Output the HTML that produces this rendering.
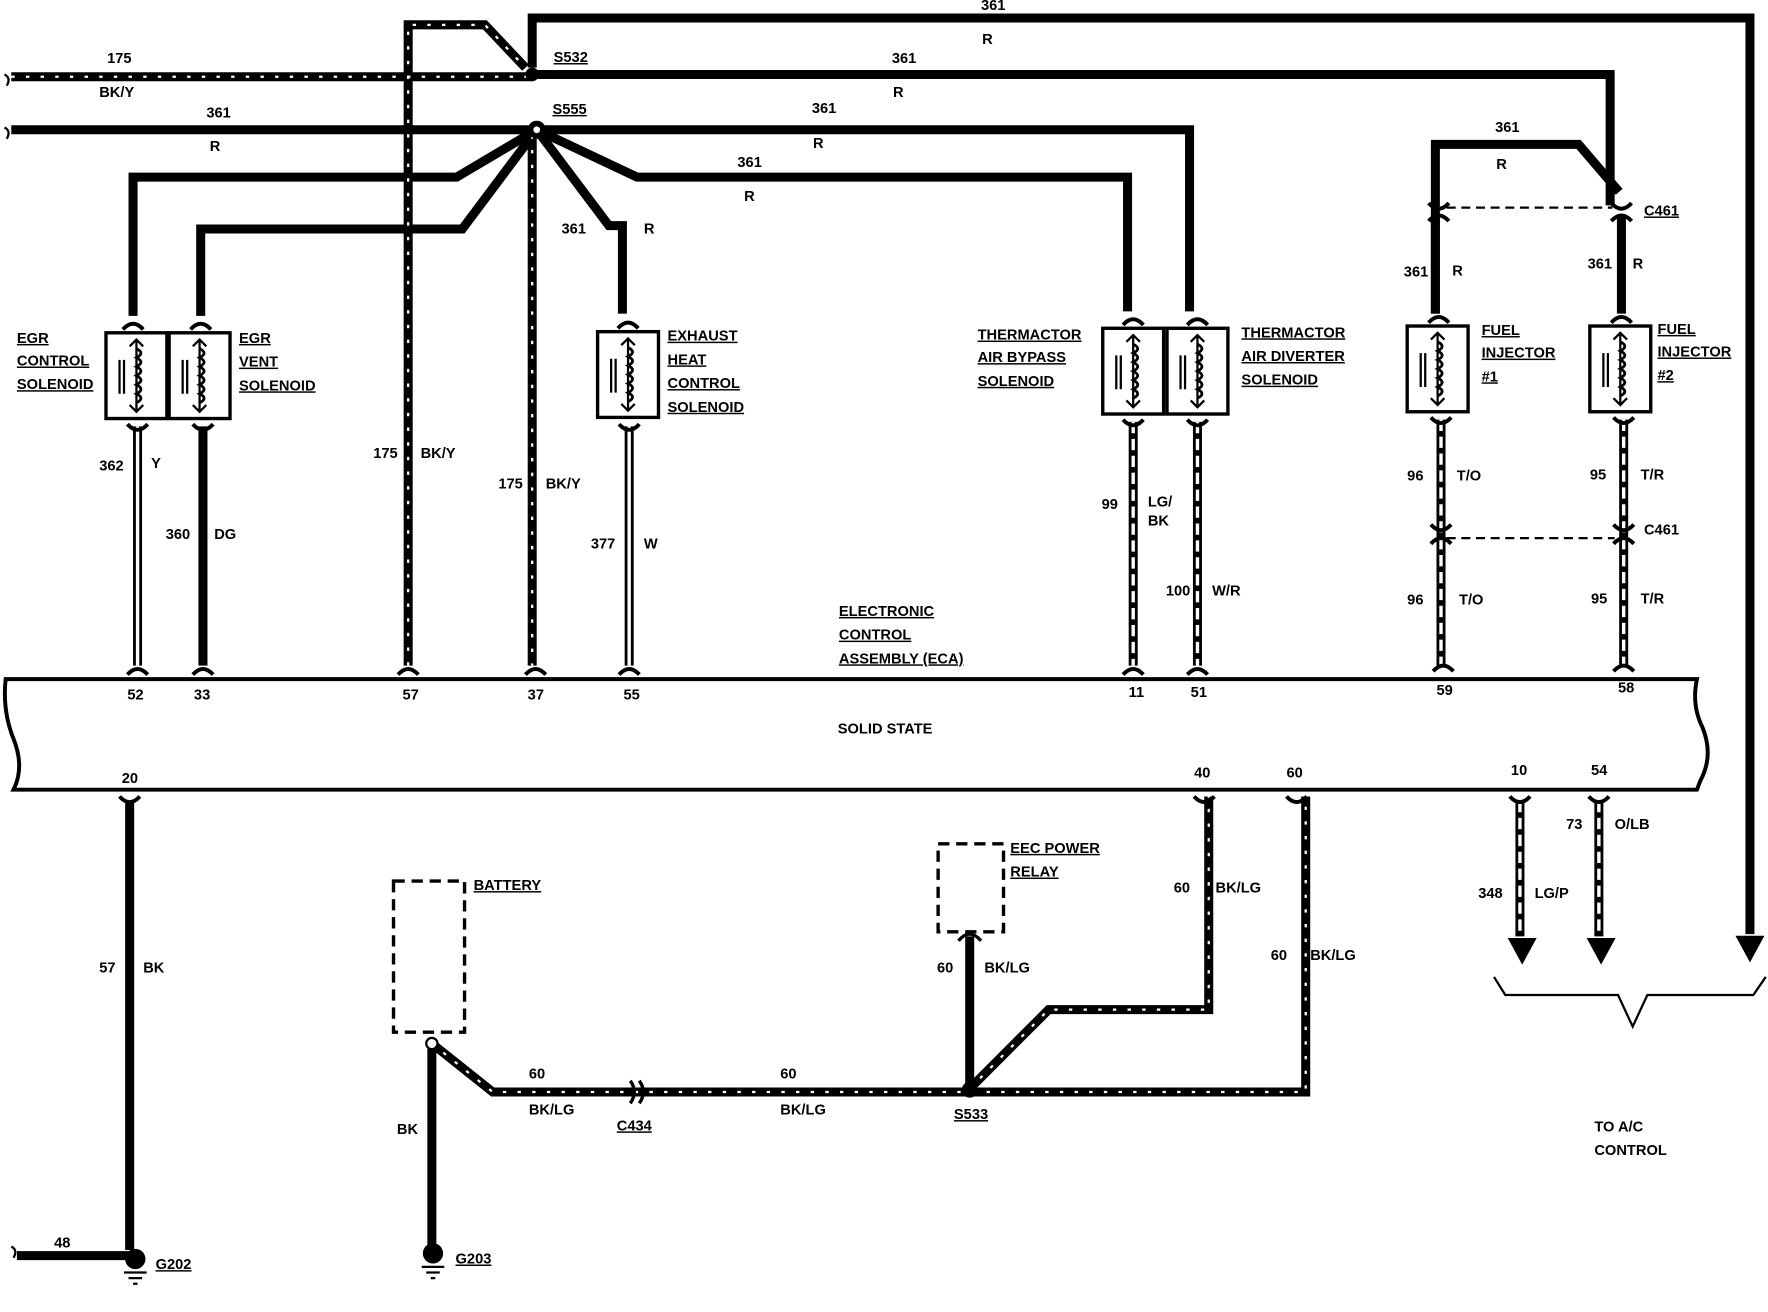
<!DOCTYPE html>
<html><head><meta charset="utf-8"><style>
html,body{margin:0;padding:0;background:#fff;}
svg{display:block;}
text{font-family:"Liberation Sans",sans-serif;font-size:13px;font-weight:bold;fill:#000;}
.u{text-decoration:underline;}
</style></head><body>
<svg width="1768" height="1312" viewBox="0 0 1568 1163" preserveAspectRatio="none" xmlns="http://www.w3.org/2000/svg">
<defs>
<g id="sol">
<rect x="0" y="0" width="54" height="76" fill="#fff" stroke="#000" stroke-width="3"/>
<path d="M27 6 V70 M21 12 L27 6 L33 12 M21 64 L27 70 L33 64" fill="none" stroke="#000" stroke-width="2"/>
<path d="M27 14 q8 4 0 8 q8 4 0 8 q8 4 0 8 q8 4 0 8 q8 4 0 8 q8 4 0 8" fill="none" stroke="#000" stroke-width="2.5"/>
<path d="M12 24 V54 M16 24 V54" stroke="#000" stroke-width="2"/>
</g>
<g id="cup"><path d="M-9 0 Q0 -10 9 0" fill="none" stroke="#000" stroke-width="3.5"/></g>
<g id="cupd"><path d="M-9 0 Q0 10 9 0" fill="none" stroke="#000" stroke-width="3.5"/></g>
</defs>
<g fill="none" stroke-linejoin="miter">
<g stroke="#000" stroke-width="8">
<path d="M472 60 V16 H1552 V828"/>
<path d="M476 66 H1428 V182"/>
<path d="M10 115 H476"/>
<path d="M476 115 H1055 V276"/>
<path d="M476 115 L565 157 H1000 V276"/>
<path d="M476 115 L540 200 H552 V278"/>
<path d="M476 115 L405 157 H118 V280"/>
<path d="M476 115 L410 203 H178 V280"/>
<path d="M1273 278 V128 H1400 L1436 170"/>
<path d="M1438 190 V278"/>
<path d="M1273 190 V278" />
<path d="M180 378 V590"/>
<path d="M115 710 V1108"/>
<path d="M15 1113 H118"/>
<path d="M383 925 V1106"/>
<path d="M860 830 V965"/>
</g>
<g stroke="#000" stroke-width="8">
<path d="M10 68 H472"/>
<path d="M362 590 V22 H430 L466 60"/>
<path d="M472 115 V590"/>
<path d="M383 925 L437 968 H860 H1158 V706"/>
<path d="M860 965 L930 895 H1072 V706"/>
</g>
<g stroke="#fff" stroke-width="2" stroke-dasharray="3 10">
<path d="M10 68 H472"/>
<path d="M362 590 V22 H430 L466 60"/>
<path d="M472 120 V590"/>
<path d="M383 925 L437 968 H860 H1158 V706"/>
<path d="M860 965 L930 895 H1072 V706"/>
</g>
<g stroke="#000" stroke-width="8">
<path d="M122 378 V590"/><path d="M558 378 V590"/><path d="M1005 374 V590"/><path d="M1062 374 V590"/>
<path d="M1278 372 V590"/><path d="M1440 372 V590"/><path d="M1348 710 V830"/><path d="M1418 710 V830"/>
</g>
<g stroke="#fff" stroke-width="3">
<path d="M122 378 V590"/><path d="M558 378 V590"/>
</g>
<g stroke="#fff" stroke-width="3" stroke-dasharray="10 5">
<path d="M1005 374 V590"/><path d="M1062 374 V590"/><path d="M1278 372 V590"/><path d="M1440 372 V590"/><path d="M1348 710 V830"/><path d="M1418 710 V830"/>
</g>
<path d="M1540 830 L1552 852 L1564 830 Z M1338 832 L1350 854 L1362 832 Z M1408 832 L1420 854 L1432 832 Z" fill="#000" stroke="#000"/>
<path d="M1325 866 L1335 882 H1435 L1448 910 L1461 882 H1555 L1566 866" stroke="#000" stroke-width="2"/>
<path d="M1283 184 H1430 M1283 477 H1432" stroke="#000" stroke-width="2" stroke-dasharray="8 5"/>
<path d="M5 602 H1505 Q1500 625 1510 645 Q1520 670 1508 692 L1505 700 H12 Q22 680 12 655 Q2 630 5 602 Z" fill="#fff" stroke="#000" stroke-width="3.5"/>
<rect x="349" y="781" width="63" height="134" stroke="#000" stroke-width="3" stroke-dasharray="10 6"/>
<rect x="832" y="748" width="58" height="78" stroke="#000" stroke-width="3" stroke-dasharray="10 6"/>
<circle cx="383" cy="925" r="5" fill="#fff" stroke="#000" stroke-width="2"/>
<path d="M850 834 Q860 822 870 834" stroke="#000" stroke-width="3"/>
<path d="M559 958 Q566 968 559 978 M567 958 Q574 968 567 978" stroke="#000" stroke-width="3"/>
</g>
<circle cx="472" cy="66" r="6" fill="#000"/>
<circle cx="476" cy="115" r="8" fill="#000"/><circle cx="476" cy="115" r="3" fill="#fff"/>
<circle cx="860" cy="966" r="7" fill="#000"/>
<circle cx="120" cy="1116" r="9" fill="#000"/><circle cx="384" cy="1111" r="9" fill="#000"/>
<path d="M110 1128 H130 M114 1133 H126 M118 1138 H122 M374 1123 H394 M378 1128 H390 M382 1133 H386" stroke="#000" stroke-width="2"/>
<use href="#sol" x="94" y="295"/><use href="#sol" x="150" y="295"/>
<use href="#sol" x="530" y="294"/>
<use href="#sol" x="978" y="291"/><use href="#sol" x="1035" y="291"/>
<use href="#sol" x="1248" y="289"/><use href="#sol" x="1410" y="289"/>
<g>
<use href="#cup" x="118" y="292"/><use href="#cup" x="178" y="292"/><use href="#cup" x="557" y="291"/>
<use href="#cup" x="1005" y="288"/><use href="#cup" x="1062" y="288"/><use href="#cup" x="1276" y="286"/><use href="#cup" x="1438" y="286"/>
<use href="#cupd" x="122" y="376"/><use href="#cupd" x="180" y="376"/><use href="#cupd" x="558" y="376"/>
<use href="#cupd" x="1005" y="372"/><use href="#cupd" x="1062" y="372"/><use href="#cupd" x="1278" y="370"/><use href="#cupd" x="1440" y="370"/>
<use href="#cup" x="122" y="598"/><use href="#cup" x="180" y="598"/><use href="#cup" x="362" y="598"/><use href="#cup" x="475" y="598"/><use href="#cup" x="558" y="598"/>
<use href="#cup" x="1005" y="598"/><use href="#cup" x="1062" y="598"/><use href="#cup" x="1280" y="595"/><use href="#cup" x="1440" y="595"/>
<use href="#cupd" x="115" y="706"/><use href="#cupd" x="1068" y="706"/><use href="#cupd" x="1150" y="706"/><use href="#cupd" x="1348" y="706"/><use href="#cupd" x="1418" y="706"/>
<use href="#cupd" x="1276" y="180"/><use href="#cupd" x="1438" y="180"/><use href="#cup" x="1276" y="196"/><use href="#cup" x="1438" y="196"/>
<use href="#cupd" x="1278" y="465"/><use href="#cupd" x="1440" y="465"/><use href="#cup" x="1278" y="482"/><use href="#cup" x="1440" y="482"/>
</g>
<text x="95" y="56">175</text><text x="88" y="86">BK/Y</text>
<text x="183" y="104">361</text><text x="186" y="134">R</text>
<text x="870" y="9">361</text><text x="871" y="39">R</text>
<text x="791" y="56">361</text><text x="792" y="86">R</text>
<text x="720" y="100">361</text><text x="721" y="131">R</text>
<text x="654" y="148">361</text><text x="660" y="178">R</text>
<text x="498" y="207">361</text><text x="571" y="207">R</text>
<text x="491" y="55" class="u">S532</text><text x="490" y="101" class="u">S555</text>
<text x="1326" y="117">361</text><text x="1327" y="150">R</text>
<text x="1458" y="191" class="u">C461</text>
<text x="1245" y="245">361</text><text x="1288" y="244">R</text>
<text x="1408" y="238">361</text><text x="1448" y="238">R</text>
<text x="15" y="304" class="u">EGR</text><text x="15" y="324" class="u">CONTROL</text><text x="15" y="345" class="u">SOLENOID</text>
<text x="212" y="304" class="u">EGR</text><text x="212" y="325" class="u">VENT</text><text x="212" y="346" class="u">SOLENOID</text>
<text x="592" y="302" class="u">EXHAUST</text><text x="592" y="323" class="u">HEAT</text><text x="592" y="344" class="u">CONTROL</text><text x="592" y="365" class="u">SOLENOID</text>
<text x="867" y="301" class="u">THERMACTOR</text><text x="867" y="321" class="u">AIR BYPASS</text><text x="867" y="342" class="u">SOLENOID</text>
<text x="1101" y="299" class="u">THERMACTOR</text><text x="1101" y="320" class="u">AIR DIVERTER</text><text x="1101" y="341" class="u">SOLENOID</text>
<text x="1314" y="297" class="u">FUEL</text><text x="1314" y="317" class="u">INJECTOR</text><text x="1314" y="338" class="u">#1</text>
<text x="1470" y="296" class="u">FUEL</text><text x="1470" y="316" class="u">INJECTOR</text><text x="1470" y="337" class="u">#2</text>
<text x="88" y="417">362</text><text x="134" y="415">Y</text>
<text x="147" y="478">360</text><text x="190" y="478">DG</text>
<text x="331" y="406">175</text><text x="373" y="406">BK/Y</text>
<text x="442" y="433">175</text><text x="484" y="433">BK/Y</text>
<text x="524" y="486">377</text><text x="571" y="486">W</text>
<text x="977" y="451">99</text><text x="1018" y="449">LG/</text><text x="1018" y="466">BK</text>
<text x="1034" y="528">100</text><text x="1075" y="528">W/R</text>
<text x="1248" y="426">96</text><text x="1292" y="426">T/O</text>
<text x="1410" y="425">95</text><text x="1455" y="425">T/R</text>
<text x="1458" y="474">C461</text>
<text x="1248" y="536">96</text><text x="1294" y="536">T/O</text>
<text x="1411" y="535">95</text><text x="1455" y="535">T/R</text>
<text x="744" y="546" class="u">ELECTRONIC</text><text x="744" y="567" class="u">CONTROL</text><text x="744" y="588" class="u">ASSEMBLY (ECA)</text>
<text x="113" y="620">52</text><text x="172" y="620">33</text><text x="357" y="620">57</text><text x="468" y="620">37</text><text x="553" y="620">55</text>
<text x="1001" y="618">11</text><text x="1056" y="618">51</text><text x="1274" y="616">59</text><text x="1435" y="614">58</text>
<text x="743" y="650">SOLID STATE</text>
<text x="108" y="694">20</text><text x="1059" y="689">40</text><text x="1141" y="689">60</text><text x="1340" y="687">10</text><text x="1411" y="687">54</text>
<text x="1389" y="735">73</text><text x="1432" y="735">O/LB</text>
<text x="1311" y="796">348</text><text x="1361" y="796">LG/P</text>
<text x="1041" y="791">60</text><text x="1078" y="791">BK/LG</text>
<text x="1127" y="851">60</text><text x="1162" y="851">BK/LG</text>
<text x="896" y="756" class="u">EEC POWER</text><text x="896" y="777" class="u">RELAY</text>
<text x="831" y="862">60</text><text x="873" y="862">BK/LG</text>
<text x="420" y="789" class="u">BATTERY</text>
<text x="88" y="862">57</text><text x="127" y="862">BK</text>
<text x="352" y="1005">BK</text>
<text x="469" y="956">60</text><text x="469" y="988">BK/LG</text>
<text x="692" y="956">60</text><text x="692" y="988">BK/LG</text>
<text x="547" y="1002" class="u">C434</text><text x="846" y="992" class="u">S533</text>
<text x="48" y="1106">48</text>
<text x="138" y="1125" class="u">G202</text><text x="404" y="1120" class="u">G203</text>
<text x="1414" y="1003">TO A/C</text><text x="1414" y="1024">CONTROL</text>
<path d="M4 66 q6 3 2 10 M4 113 q6 3 2 10 M10 1105 q6 3 2 10" stroke="#000" stroke-width="2" fill="none"/>
</svg>
</body></html>
